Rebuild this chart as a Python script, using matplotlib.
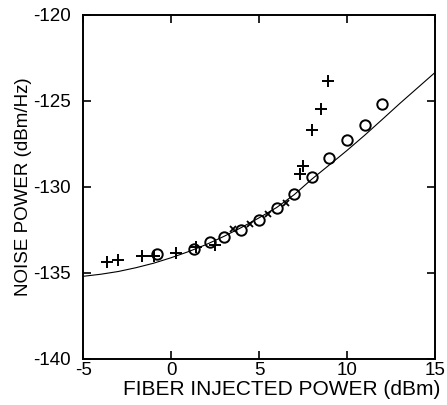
import numpy as np
import matplotlib
matplotlib.use('Agg')
import matplotlib.pyplot as plt

# plus markers (x = fiber injected power dBm, y = noise power dBm/Hz)
plus_x = [-3.65, -3.0, -1.65, -0.95, 0.3, 1.4, 2.5, 7.35, 7.5, 8.0, 8.5, 8.9]
plus_y = [-134.35, -134.25, -134.0, -134.0, -133.85, -133.5, -133.4,
          -129.25, -128.8, -126.7, -125.45, -123.85]

# circle markers
circ_x = [-0.8, 1.3, 2.2, 3.0, 4.0, 5.0, 6.0, 7.0, 8.0, 9.0, 10.0, 11.0, 12.0]
circ_y = [-133.9, -133.6, -133.2, -132.9, -132.5, -131.9, -131.2, -130.4,
          -129.4, -128.3, -127.3, -126.4, -125.2]

# small x markers between the circles
cross_x = [3.5, 4.5, 5.5, 6.55]
cross_y = [-132.45, -132.15, -131.6, -130.95]

# theory curve
curve_x = [-5, -4, -3, -2, -1, 0, 1, 2, 3, 4, 5, 6, 7, 8, 9, 10, 11, 12, 13, 14, 15]
curve_y = [-135.2, -135.08, -134.92, -134.7, -134.44, -134.12, -133.76, -133.35,
           -132.88, -132.36, -131.8, -131.2, -130.45, -129.55, -128.72, -127.88,
           -127.0, -126.08, -125.15, -124.25, -123.35]

plt.rcParams['font.family'] = ['Liberation Sans', 'DejaVu Sans']
plt.rcParams['axes.unicode_minus'] = False

fig = plt.figure(figsize=(4.47, 4.05), dpi=100)
ax = fig.add_axes([0.186, 0.114, 0.787, 0.849])

ax.plot(curve_x, curve_y, color='black', lw=0.8)
ax.plot(plus_x, plus_y, linestyle='none', marker='+', ms=8.5, mew=1.4, color='black')
ax.plot(circ_x, circ_y, linestyle='none', marker='o', ms=7.5, mew=1.4,
        mfc='none', mec='black')
ax.plot(cross_x, cross_y, linestyle='none', marker='x', ms=5, mew=1.3, color='black')

ax.set_xlim(-5, 15)
ax.set_ylim(-140, -120)
ax.set_xticks([-5, 0, 5, 10, 15])
ax.set_yticks([-140, -135, -130, -125, -120])

ax.tick_params(direction='in', length=6, width=1.2, top=True, right=True,
               labelsize=13.5, colors='black')
ax.tick_params(axis='x', pad=2)
ax.tick_params(axis='y', pad=9)
for s in ax.spines.values():
    s.set_linewidth(1.4)

ax.set_xlabel('FIBER INJECTED POWER (dBm)', fontsize=15, va='top')
ax.set_ylabel('NOISE POWER (dBm/Hz)', fontsize=13.5)
ax.xaxis.set_label_coords(0.565, -0.063)
ax.yaxis.set_label_coords(-0.145, 0.5)

fig.savefig('out.png', dpi=100)
